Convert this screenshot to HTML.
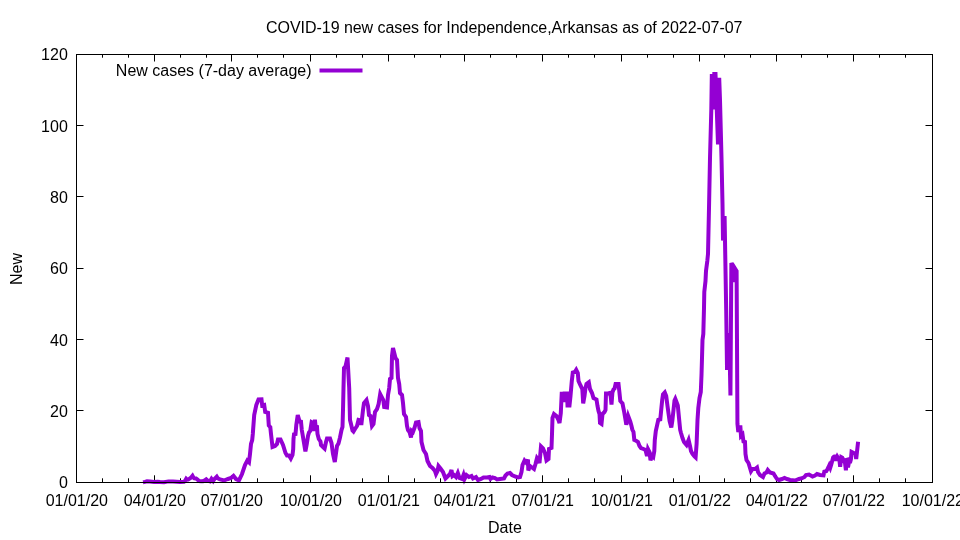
<!DOCTYPE html>
<html lang="en"><head><meta charset="utf-8"><title>COVID-19 new cases for Independence,Arkansas</title>
<style>html,body{margin:0;padding:0;background:#fff;overflow:hidden}svg{display:block}text{font-family:"Liberation Sans",Arial,sans-serif;font-size:16px;fill:#000}</style></head><body>
<svg width="960" height="540" viewBox="0 0 960 540">
<rect width="960" height="540" fill="#fff"/>
<path d="M76.5 482.5h7M932.5 482.5h-7M76.5 410.5h7M932.5 410.5h-7M76.5 339.5h7M932.5 339.5h-7M76.5 268.5h7M932.5 268.5h-7M76.5 196.5h7M932.5 196.5h-7M76.5 125.5h7M932.5 125.5h-7M76.5 54.5h7M932.5 54.5h-7M76.5 482.5v-7.2M76.5 54.5v7.0M102.5 482.5v-4.2M102.5 54.5v3.2M128.5 482.5v-4.2M128.5 54.5v3.2M154.5 482.5v-7.2M154.5 54.5v7.0M180.5 482.5v-4.2M180.5 54.5v3.2M206.5 482.5v-4.2M206.5 54.5v3.2M231.5 482.5v-7.2M231.5 54.5v7.0M257.5 482.5v-4.2M257.5 54.5v3.2M283.5 482.5v-4.2M283.5 54.5v3.2M310.5 482.5v-7.2M310.5 54.5v7.0M336.5 482.5v-4.2M336.5 54.5v3.2M362.5 482.5v-4.2M362.5 54.5v3.2M388.5 482.5v-7.2M388.5 54.5v7.0M414.5 482.5v-4.2M414.5 54.5v3.2M440.5 482.5v-4.2M440.5 54.5v3.2M464.5 482.5v-7.2M464.5 54.5v7.0M490.5 482.5v-4.2M490.5 54.5v3.2M516.5 482.5v-4.2M516.5 54.5v3.2M542.5 482.5v-7.2M542.5 54.5v7.0M568.5 482.5v-4.2M568.5 54.5v3.2M594.5 482.5v-4.2M594.5 54.5v3.2M621.5 482.5v-7.2M621.5 54.5v7.0M647.5 482.5v-4.2M647.5 54.5v3.2M673.5 482.5v-4.2M673.5 54.5v3.2M699.5 482.5v-7.2M699.5 54.5v7.0M724.5 482.5v-4.2M724.5 54.5v3.2M750.5 482.5v-4.2M750.5 54.5v3.2M776.5 482.5v-7.2M776.5 54.5v7.0M801.5 482.5v-4.2M801.5 54.5v3.2M827.5 482.5v-4.2M827.5 54.5v3.2M853.5 482.5v-7.2M853.5 54.5v7.0M879.5 482.5v-4.2M879.5 54.5v3.2M905.5 482.5v-4.2M905.5 54.5v3.2M932.5 482.5v-7.2M932.5 54.5v7.0" stroke="#000" stroke-width="1" fill="none"/>
<text x="67.8" y="488" text-anchor="end">0</text>
<text x="67.8" y="417" text-anchor="end">20</text>
<text x="67.8" y="346" text-anchor="end">40</text>
<text x="67.8" y="274" text-anchor="end">60</text>
<text x="67.8" y="203" text-anchor="end">80</text>
<text x="67.8" y="132" text-anchor="end">100</text>
<text x="67.8" y="60" text-anchor="end">120</text>
<text x="76.8" y="506" text-anchor="middle">01/01/20</text>
<text x="154.8" y="506" text-anchor="middle">04/01/20</text>
<text x="231.8" y="506" text-anchor="middle">07/01/20</text>
<text x="310.8" y="506" text-anchor="middle">10/01/20</text>
<text x="388.8" y="506" text-anchor="middle">01/01/21</text>
<text x="464.8" y="506" text-anchor="middle">04/01/21</text>
<text x="542.8" y="506" text-anchor="middle">07/01/21</text>
<text x="621.8" y="506" text-anchor="middle">10/01/21</text>
<text x="699.8" y="506" text-anchor="middle">01/01/22</text>
<text x="776.8" y="506" text-anchor="middle">04/01/22</text>
<text x="853.8" y="506" text-anchor="middle">07/01/22</text>
<text x="932.8" y="506" text-anchor="middle">10/01/22</text>
<text x="504.3" y="33" text-anchor="middle" textLength="476.4" lengthAdjust="spacing">COVID-19 new cases for Independence,Arkansas as of 2022-07-07</text>
<text x="504.9" y="533" text-anchor="middle">Date</text>
<text transform="translate(22,269) rotate(-90)" text-anchor="middle">New</text>
<text x="311.5" y="76" text-anchor="end">New cases (7-day average)</text>
<path d="M319.5 70.5H362.5" stroke="#9400d3" stroke-width="4" fill="none"/>
<path d="M143 482.2 L145 481.9 L147 481.3 L150 481.5 L154 482 L157.5 481.8 L160 482.1 L164 482.2 L168.5 481.4 L173 481.5 L180 482 L184 481.8 L185.3 480.5 L186.25 478.7 L187.2 479.6 L188.2 479.5 L189.2 478.9 L190.3 478.1 L191.3 477.3 L192.5 475.8 L193.5 477.7 L194.3 478.3 L196 478.5 L197.5 479.6 L199 481 L201 481.3 L203 481.2 L204.8 480.4 L206.25 479.3 L207.8 480.7 L210 481.3 L211.5 478.8 L213.2 481 L214.5 479 L215.8 477.6 L216.75 476.7 L217.8 478.3 L219 479 L220 479.3 L222 479.9 L224 480.5 L228 479 L231 478 L233.5 475.8 L236 479 L239 480.3 L242 474 L245 465 L247.3 460.5 L249 462.2 L250 454 L251 444 L252.2 440 L252.8 434 L254.2 415 L256.3 405 L258.5 399.5 L261.5 399.3 L262.2 405.5 L264.2 405 L265.2 412 L268 412.8 L268.8 425.5 L270.3 427.2 L271 434 L272.5 447 L275 446 L277 444 L278 439.5 L280.5 439.5 L283 445 L285.5 453 L287 455.5 L289 455.5 L290.8 458.5 L292.5 455 L293.2 449 L293.5 439 L294 434.3 L295.5 434 L296.3 425 L297.75 415 L299.6 421.5 L301 421.7 L301.8 430 L302.5 434 L303.5 440 L305.4 451.5 L306.8 444 L308 436 L309 432.5 L310.2 431 L311.6 422.3 L312.8 423 L313.6 431 L314.9 419.8 L315.6 426.5 L317 426.8 L317.5 434 L318.8 439 L320.5 441.5 L321 445 L323 447 L324.6 448.5 L326 442 L327 438.5 L330 438.5 L331.5 443 L333 454 L334.8 462 L337 446 L338.5 443.5 L340 437.5 L341.5 430 L342.5 427 L343 410 L343.5 388 L344 368 L345.5 366.5 L347.5 357.5 L349.2 388 L349.5 400 L350 420 L351 424 L352.5 430.5 L353.5 431.5 L355 429 L357 426 L358.5 420 L360.5 420.5 L361.3 425 L363 410 L364 403 L366.5 400 L368 406 L369 415 L370.5 416 L372 426 L373.5 424 L375 412 L377 409 L378.6 404 L380.2 394 L383.3 400 L384.2 407 L387 407.5 L388 395 L389.2 388 L390 379 L391.5 378 L392 356 L393 348 L395.5 358 L397 360 L398 378 L399.2 384 L400 393 L402 395 L403 403 L404 414 L406 417 L407 426 L408 430 L409.5 432 L411 437.5 L411.8 431 L413 432 L414.5 428 L416 422.5 L418.5 422 L419.5 428 L421 431 L421.5 442 L423.5 450 L426 454 L427.5 461 L430 466 L432.5 468 L435 471 L436 474 L437.5 471 L438.5 466 L440.5 468.5 L443 472 L444.5 476 L445.5 478.5 L448 476 L450 474 L451.5 470 L452.5 476 L454 475 L456 477 L457.8 473 L459.5 478 L462 479 L463.5 475 L464.5 479 L466.5 475 L469 477 L471.5 476 L473 478.5 L476 477 L478 480 L481 479 L483.5 477.5 L487 477.5 L489.5 477 L490.5 479 L492.5 477.5 L495 478 L497 479.5 L500 479 L504 478.5 L505.5 475.5 L507.5 473.5 L510 473 L512 475 L515 476.5 L518 477.5 L520 477 L521.5 472 L522.5 465 L524.5 460.5 L526.5 463 L528 459.5 L528.3 470.5 L530 466 L532 467.5 L534 469 L535.5 464 L537 458 L538.5 460 L539.5 463 L541 446.5 L543 448.5 L545 453 L546.5 460.5 L548.5 459 L549 449 L551.5 448 L552 434 L552.5 418 L554 414 L556.5 416 L558.5 420 L559.5 423 L560.8 413 L561.8 391.8 L563.5 402 L564.5 393.5 L567 393.5 L567.5 405.5 L569.5 405.5 L570.5 396 L571.8 381 L572.8 372.5 L574.8 372 L576.2 369.8 L577.8 373 L578.5 381 L580.5 385.5 L582.3 389 L583.2 403.5 L584.5 396 L585.5 388 L586.5 384 L588.8 382.3 L590 389 L592 393 L593.5 398 L596.5 399.5 L597.5 406 L598.5 411 L599.5 414 L600 423 L601.5 424 L602.5 414 L604.5 412 L605.5 410 L606 393.5 L608 393.5 L609.8 393 L610.7 396.5 L611.5 404.5 L612.4 392.5 L613.5 389.5 L614.6 388.5 L615.6 384 L618.5 384 L619.5 393 L620.3 401 L622.5 403.5 L624 411 L625.2 418 L626.3 424.8 L627.2 421 L628.2 416 L630.3 421.5 L631.5 426 L632.3 429.5 L633.5 432 L634.3 440 L636.5 441 L638 442 L639.5 446 L641 448 L643.5 449 L645.5 450 L647 456 L648 449 L649.5 452 L650.5 460.3 L652 455.5 L653.3 456.8 L654.3 451 L654.8 440 L655.8 431 L658.3 419.8 L660.3 419.3 L661.2 410 L662.2 400 L663 394.5 L664.8 392.5 L666.2 396 L667.5 406 L668.6 414 L669.6 421 L671.3 427.5 L672.3 421 L673.5 410 L674.5 400.5 L675.3 398.8 L676.5 402 L677.8 405.5 L679 418 L680.2 430 L681 433 L682.5 438 L684 442 L686.5 445 L688.6 440 L690 446 L691 451 L692.5 454 L694.5 456.5 L695.6 457.5 L696.6 444 L697.5 420 L698.3 408 L699.5 398 L700.8 392 L701.5 375 L702 358 L702.5 340 L703.3 334 L704 308 L704.3 292 L705.5 281 L706 271 L707.3 261 L708 254 L709 208 L710 158 L711.3 110 L711.8 76 L712.8 76 L713.8 109.5 L714.3 74 L715.5 74 L718 144.5 L719.2 77.8 L720 100 L721.5 158 L722.5 204 L723 240.5 L724.6 216 L725.3 258 L726.2 310 L727.03 370 L727.9 333 L728.75 345 L729.6 352 L730.44 395.5 L731.35 263 L733 266.5 L734 282 L735 268.5 L736.6 271 L737.45 424 L738.3 432 L740.3 425.5 L741 436 L742.5 434.5 L743.5 441.5 L745 442 L745.5 454 L746.5 460 L748.5 463 L750 468 L751 471.3 L752.5 469 L755 469 L757 467.5 L758 472 L760 475 L763 477 L764.5 473.5 L766.5 472.5 L767.8 470 L770 472.5 L773.5 473.5 L775 476 L777 479 L779 480 L782 479 L784.5 478 L787 479 L790 480 L795 480.5 L799 479 L802 478.2 L804.5 477 L806 475 L809 474.6 L812.5 476.5 L815 475.5 L817 474 L820 475 L823.5 475.3 L824.3 471.6 L826.2 471.2 L827.4 469.2 L828.3 467.6 L829.25 465.5 L830.25 467.8 L831.2 464.8 L832.2 461 L833.1 457.5 L834 456.6 L834.7 456.5 L835.5 456.4 L835.9 457.6 L836.3 461 L836.7 457.6 L837.2 456.5 L838.2 458.2 L839.3 458.7 L840.15 466.75 L841.3 457.2 L842.3 457.8 L843.6 460.2 L845 462.8 L845.9 470.25 L846.75 459.8 L847.6 459.6 L848 467.5 L849.2 461 L850.4 461.2 L850.9 459.3 L851.55 451.9 L855.3 453.9 L856.2 459 L858.1 441.8" stroke="#9400d3" stroke-width="4" fill="none" stroke-linejoin="miter" stroke-miterlimit="3.8" stroke-linecap="butt"/>
<rect x="76.5" y="54.5" width="856.0" height="428.0" fill="none" stroke="#000" stroke-width="1" shape-rendering="crispEdges"/>
</svg></body></html>
